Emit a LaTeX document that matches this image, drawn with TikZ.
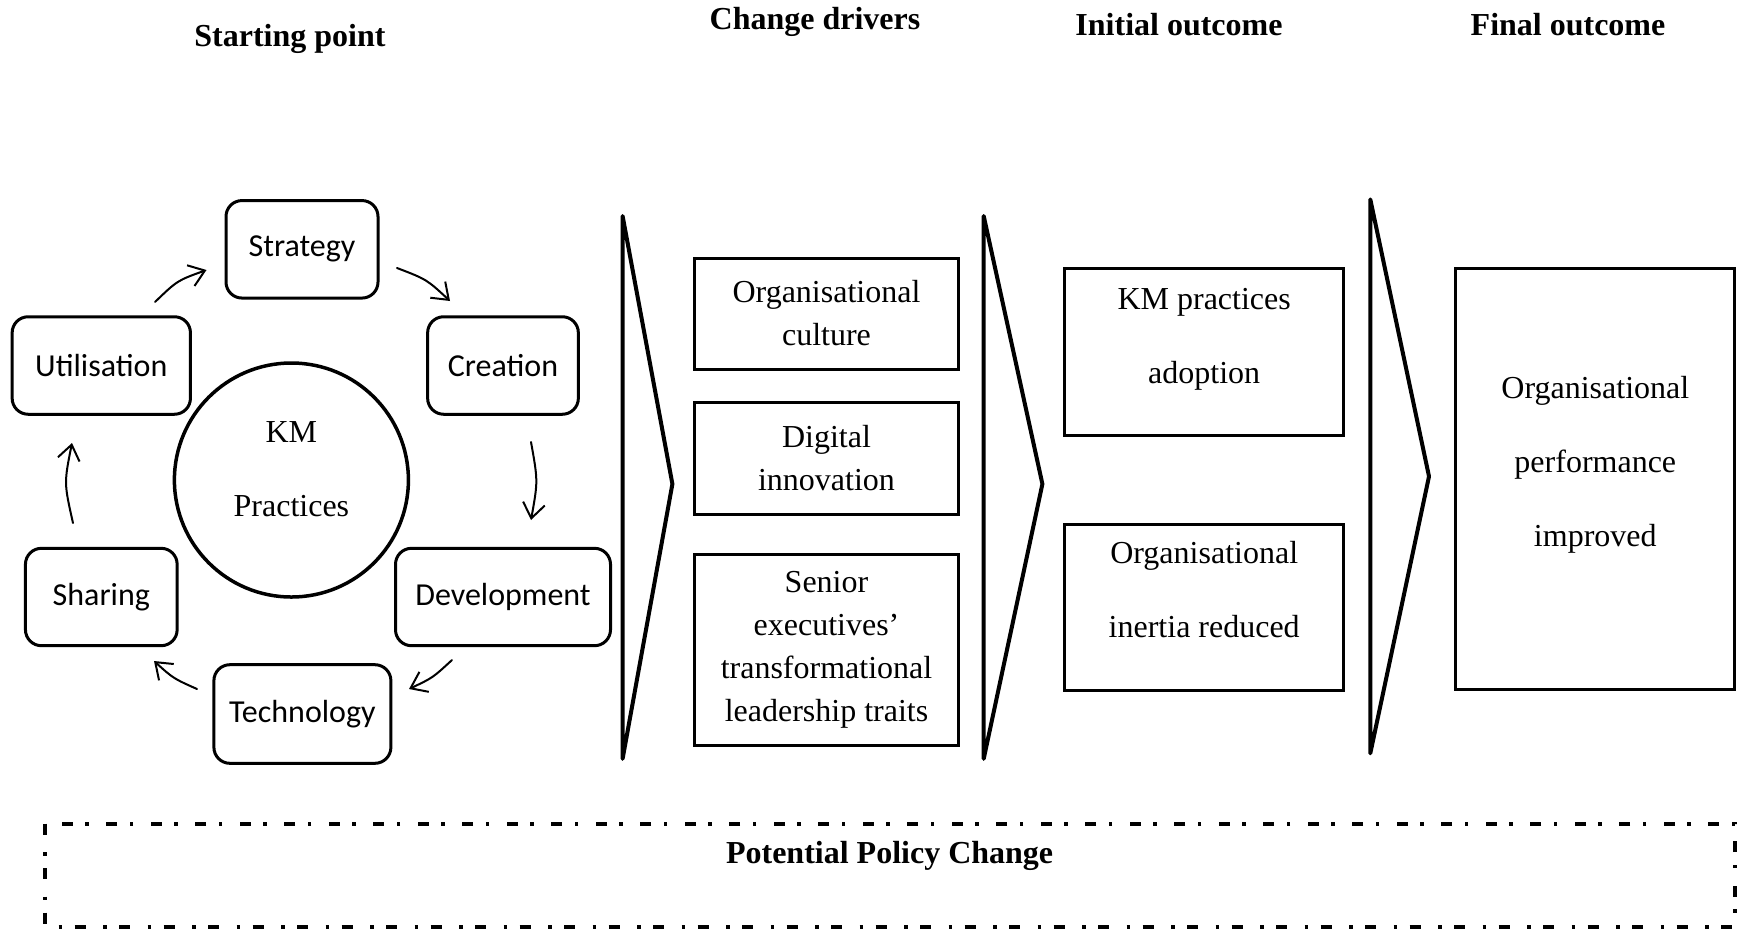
\documentclass[tikz,border=0pt]{standalone}
\usepackage{fontspec}
\setmainfont{Liberation Serif}
\newfontfamily\lblfont{Carlito}
\usetikzlibrary{arrows.meta}
\begin{document}
\begin{tikzpicture}[x=1pt,y=-1pt,
  every node/.style={font=\fontsize{32}{43}\selectfont},
  loopbox/.style={draw, line width=3pt, rounded corners=16pt, inner sep=0pt, font=\lblfont\fontsize{32}{38}\selectfont},
  sqbox/.style={draw, line width=3pt, inner sep=0pt, align=center},
  chev/.style={draw, line width=4pt, line join=round, line cap=round},
  cyc/.style={line width=2pt, line cap=round, -{Straight Barb[length=15pt,width=22pt,line width=2pt]}},
  head/.style={font=\bfseries\fontsize{32}{38}\selectfont},
  dbl/.style={align=center, font=\fontsize{32}{74}\selectfont}
]
\useasboundingbox (0,0) rectangle (1737,930);

% headers
\node[head] (h1) at (290,39) {Starting point};
\node[head] (h2) at (815,22) {Change drivers};
\node[head] (h3) at (1179,25) {Initial outcome};
\node[head] (h4) at (1568,25) {Final outcome};

% cycle
\node[loopbox, minimum width=152pt, minimum height=97.5pt] (strat) at (302,249.3) {Strategy};
\node[loopbox, minimum width=150.7pt, minimum height=97.5pt] (crea) at (503,365.5) {Creation};
\node[loopbox, minimum width=178.3pt, minimum height=97.5pt] (util) at (101.3,365.5) {Utilisation};
\node[loopbox, minimum width=151.7pt, minimum height=97.4pt] (shar) at (101.3,597) {Sharing};
\node[loopbox, minimum width=215pt, minimum height=97.4pt] (dev) at (503,597) {Development};
\node[loopbox, minimum width=177pt, minimum height=98.6pt] (tech) at (302.4,714) {Technology};

\node[draw, circle, line width=3.5pt, minimum size=234pt, inner sep=0pt] (km) at (291.4,480) {};
\node[dbl] (kmt) at (291.4,469) {KM\\Practices};

\coordinate (a1s) at (155,302); \coordinate (a1e) at (206.5,270);
\coordinate (a2s) at (397,268); \coordinate (a2e) at (450,301);
\coordinate (a3s) at (531,442); \coordinate (a3e) at (531,520);
\coordinate (a4s) at (452,660); \coordinate (a4e) at (409,689);
\coordinate (a5s) at (197,689); \coordinate (a5e) at (154,661);
\coordinate (a6s) at (73,523);  \coordinate (a6e) at (72,443);
\draw[cyc] (a1s) .. controls (177.3,280.5) .. (a1e);
\draw[cyc] (a2s) .. controls (426.7,279.4) .. (a2e);
\draw[cyc] (a3s) .. controls (538,481) .. (a3e);
\draw[cyc] (a4s) .. controls (432.7,677.8) .. (a4e);
\draw[cyc] (a5s) .. controls (173.3,678.4) .. (a5e);
\draw[cyc] (a6s) .. controls (64,483) .. (a6e);

% chevrons
\draw[chev] (622.6,216) -- (672.4,484) -- (622.6,758.8) -- cycle;
\draw[chev] (983.7,216) -- (1042.4,484) -- (983.7,758.8) -- cycle;
\draw[chev] (1370.3,199.4) -- (1429,476.4) -- (1370.3,753.3) -- cycle;

% drivers
\node[sqbox, minimum width=263.7pt, minimum height=111pt] (cult) at (826.5,313.5) {Organisational\\culture};
\node[sqbox, minimum width=263.7pt, minimum height=112pt] (digi) at (826.5,458) {Digital\\innovation};
\node[sqbox, minimum width=263.7pt, minimum height=191.6pt] (sen) at (826.5,649.8) {Senior\\executives'\\transformational\\leadership traits};

% initial outcomes
\node[sqbox, minimum width=279.2pt, minimum height=167.4pt] (adop) at (1204.2,351.7) {};
\node[dbl] (adopt) at (1204.2,339) {KM practices\\adoption};
\node[sqbox, minimum width=279.2pt, minimum height=166pt] (iner) at (1204.2,607) {};
\node[dbl] (inert) at (1204.2,590) {Organisational\\inertia reduced};

% final
\node[sqbox, minimum width=279.1pt, minimum height=421pt] (fin) at (1595.3,478.5) {};
\node[dbl] (fint) at (1595.3,464.5) {Organisational\\performance\\improved};

% policy
\draw[line width=4pt, dash pattern=on 11pt off 17.5pt on 3.5pt off 12.5pt] (44.5,823.5) rectangle (1735,927);
\node[head] (pol) at (889.6,856) {Potential Policy Change};
\end{tikzpicture}
\end{document}
